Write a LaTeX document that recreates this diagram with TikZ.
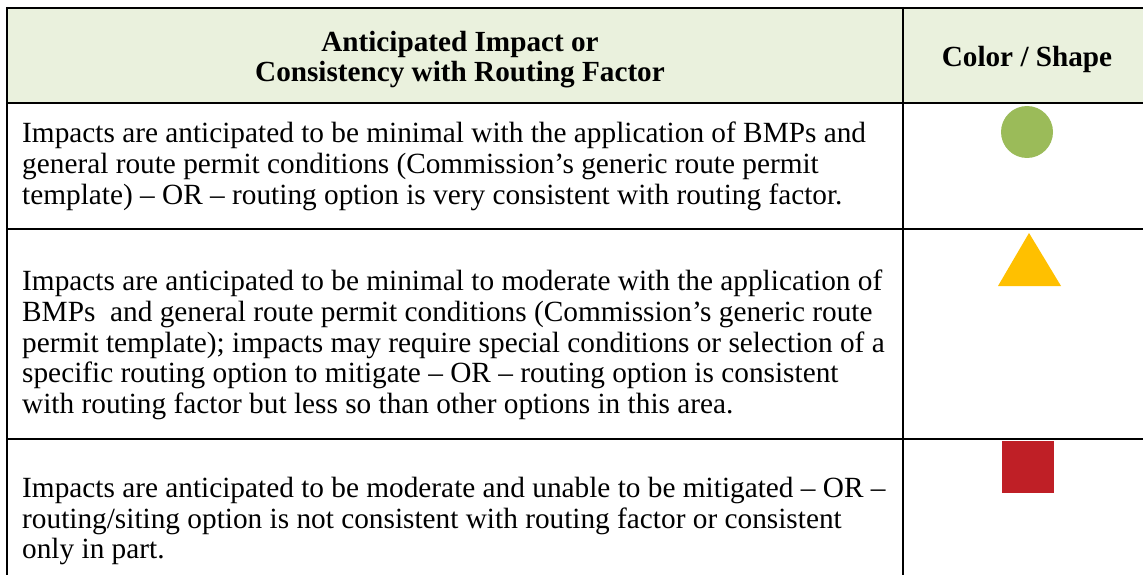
\documentclass[tikz,border=0pt]{standalone}
\usepackage{fontspec}
\setmainfont{Liberation Serif}
\usetikzlibrary{positioning}
\definecolor{headfill}{HTML}{EAF1DD}
\definecolor{lowgreen}{HTML}{9BBB59}
\definecolor{midamber}{HTML}{FFC000}
\definecolor{highred}{HTML}{BF1F26}
\tikzset{
  rule/.style={line width=2.4pt},
  vrule/.style={line width=2pt},
  headtext/.style={font=\fontsize{29.2}{30}\selectfont\bfseries,align=center,inner sep=0pt},
  celltext/.style={font=\fontsize{29.3}{30.6}\selectfont,align=left,anchor=north west,inner sep=0pt},
}

\begin{document}
\begin{tikzpicture}[x=1pt,y=-1pt]
\useasboundingbox (0,0) rectangle (1143,575);
% header band
\fill[headfill] (7,8) rectangle (1143,103);
% rules
\draw[rule] (6,8) -- (1143,8);
\draw[rule] (6,103) -- (1143,103);
\draw[rule] (6,229) -- (1143,229);
\draw[rule] (6,439) -- (1143,439);
\draw[vrule] (7,7) -- (7,575);
\draw[vrule] (903,7) -- (903,575);

% header
\node[headtext,anchor=north] (headleft) at (460,31) {Anticipated Impact or\\Consistency with Routing Factor};
\node[headtext,anchor=base] (headright) at (1027,67) {Color / Shape};

% rows
\node[celltext] (lowtext) at (22,122) {Impacts are anticipated to be minimal with the application of BMPs and\\
general route permit conditions (Commission’s generic route permit\\
template) – OR – routing option is very consistent with routing factor.};
\node[celltext] (midtext) at (22,270) {Impacts are anticipated to be minimal to moderate with the application of\\
BMPs\ \ and general route permit conditions (Commission’s generic route\\
permit template); impacts may require special conditions or selection of a\\
specific routing option to mitigate – OR – routing option is consistent\\
with routing factor but less so than other options in this area.};
\node[celltext] (hightext) at (22,477) {Impacts are anticipated to be moderate and unable to be mitigated – OR –\\
routing/siting option is not consistent with routing factor or consistent\\
only in part.};

% marks
\node[circle,fill=lowgreen,minimum size=52pt,inner sep=0pt] (lowmark) at (1027,132) {};
\fill[midamber] (998,286) -- (1029,233) -- (1061,286) -- cycle;
\node[rectangle,fill=highred,minimum size=52pt,inner sep=0pt] (highmark) at (1028,467) {};
\end{tikzpicture}
\end{document}
